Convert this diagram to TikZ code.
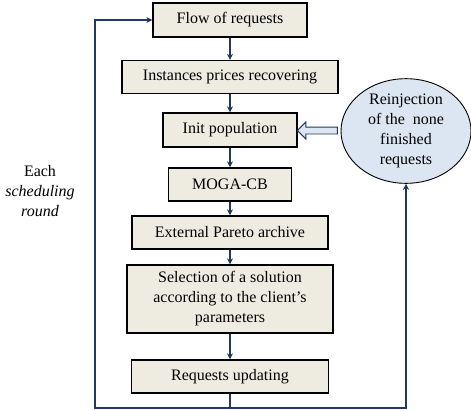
\documentclass[tikz,border=0pt]{standalone}
\usepackage{fontspec}
\setmainfont{Liberation Serif}
\usetikzlibrary{shapes.geometric,shapes.arrows,arrows.meta,calc}
\definecolor{beige}{HTML}{EEECE1}
\definecolor{bleuclair}{HTML}{DCE6F2}
\definecolor{marine}{HTML}{1F3864}
\tikzset{
  boite/.style={draw=black, line width=1.3pt, fill=beige, inner sep=2pt, align=center,
    font=\fontsize{16}{20}\selectfont},
  lien/.style={draw=marine, line width=1.3pt, -{Stealth[length=6pt,width=6pt]}},
  trait/.style={draw=marine, line width=1.3pt},
}
\begin{document}
\begin{tikzpicture}[x=1pt,y=-1pt]
    \useasboundingbox (0,0) rectangle (471,410);

    % Les etapes de l'ordonnancement
    \node[boite, minimum width=154, minimum height=34] (flux) at (230,20) {Flow of requests};
    \node[boite, minimum width=216, minimum height=33] (prix) at (230,77) {Instances prices recovering};
    \node[boite, minimum width=134, minimum height=34] (init) at (230,130) {Init population};
    \node[boite, minimum width=123, minimum height=33] (moga) at (230,184.5) {MOGA-CB};
    \node[boite, minimum width=196, minimum height=33] (archive) at (230,232.5) {External Pareto archive};
    \node[boite, minimum width=206, minimum height=68] (choix) at (230,299)
        {Selection of a solution\\according to the client’s\\parameters};
    \node[boite, minimum width=197, minimum height=33] (maj) at (230,376.5) {Requests updating};

    % La reinjection
    \node[ellipse, draw=black, line width=0.9pt, fill=bleuclair, minimum width=130, minimum height=94,
        inner sep=0pt, align=center, font=\fontsize{16}{20}\selectfont] (reinj) at (406,131)
        {Reinjection\\of the \ none\\finished\\requests};
    \node[single arrow, draw=marine, line width=0.9pt, fill=bleuclair, shape border rotate=180,
        minimum height=40, inner sep=3pt, single arrow head extend=5pt] (fleche)
        at ($(init.east)!0.5!(reinj.west)$) {};

    % Le texte a gauche
    \node[align=center, font=\fontsize{16}{20}\selectfont] (tour) at (40,191)
        {Each\\\textit{scheduling}\\\textit{round}};

    % Les fleches verticales
    \draw[lien] (flux) -- (prix);
    \draw[lien] (prix) -- (init);
    \draw[lien] (init) -- (moga);
    \draw[lien] (moga) -- (archive);
    \draw[lien] (archive) -- (choix);
    \draw[lien] (choix) -- (maj);

    % La boucle
    \coordinate (bas) at (230,408);
    \coordinate (hautg) at (95,20);
    \draw[trait] (maj.south) -- (bas);
    \draw[lien] (bas) -| (hautg) -- (flux.west);
    \draw[lien] (bas) -| (reinj.south);
\end{tikzpicture}
\end{document}
